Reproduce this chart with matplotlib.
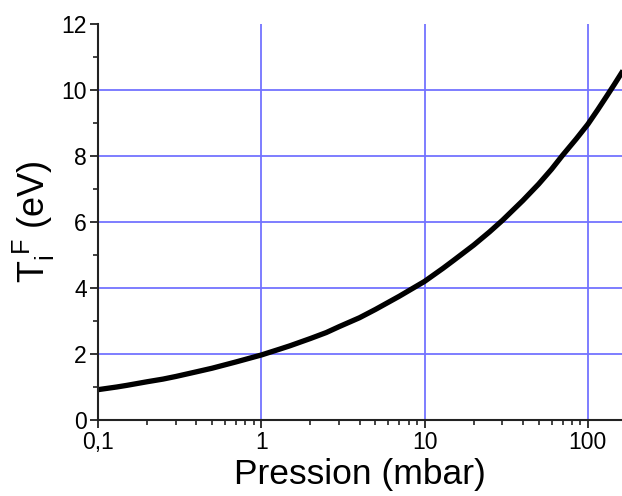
import matplotlib
matplotlib.use("Agg")
import matplotlib.pyplot as plt
from matplotlib.ticker import FixedLocator, LogLocator, NullFormatter

# -----------------------------
# Data
# -----------------------------
pression = [0.1, 0.13, 0.15, 0.2, 0.25, 0.3, 0.4, 0.5, 0.7, 1, 1.3, 1.5,
            2, 2.5, 3, 4, 5, 7, 10, 13, 15, 20, 25, 30, 40, 50, 60, 70,
            85, 100, 115, 130, 145, 165]
ti_f = [0.92, 1.0, 1.05, 1.16, 1.24, 1.32, 1.46, 1.57, 1.76, 1.97, 2.15,
        2.25, 2.47, 2.65, 2.83, 3.1, 3.35, 3.75, 4.2, 4.6, 4.83, 5.3, 5.7,
        6.05, 6.65, 7.15, 7.6, 8.02, 8.52, 8.96, 9.4, 9.8, 10.16, 10.6]

x_ticks = [0.1, 1, 10, 100]
x_labels = ["0,1", "1", "10", "100"]
y_ticks = [0, 2, 4, 6, 8, 10, 12]
x_grid = [1, 10, 100]
y_grid = [2, 4, 6, 8, 10]

plt.rcParams["font.family"] = ["Liberation Sans", "DejaVu Sans"]
plt.rcParams["mathtext.fontset"] = "custom"
plt.rcParams["mathtext.rm"] = "Liberation Sans"
plt.rcParams["mathtext.it"] = "Liberation Sans"

fig = plt.figure(figsize=(6.22, 4.96), dpi=100)
ax = fig.add_axes([0.1576, 0.1532, 0.8424, 0.7984])

grid_color = "#7373ff"
for gx in x_grid:
    ax.axvline(gx, color=grid_color, lw=1.3, zorder=1)
for gy in y_grid:
    ax.axhline(gy, color=grid_color, lw=1.3, zorder=1)

ax.plot(pression, ti_f, color="black", lw=3.8, zorder=3,
        solid_capstyle="butt", solid_joinstyle="round")

ax.set_xscale("log")
ax.set_xlim(0.1, 162)
ax.set_ylim(0, 12)

ax.xaxis.set_major_locator(FixedLocator(x_ticks))
ax.set_xticklabels(x_labels)
ax.xaxis.set_minor_locator(LogLocator(base=10, subs=range(2, 10)))
ax.xaxis.set_minor_formatter(NullFormatter())
ax.set_yticks(y_ticks)
ax.set_yticks([1, 3, 5, 7, 9, 11], minor=True)

for side in ["top", "right"]:
    ax.spines[side].set_visible(False)
for side in ["left", "bottom"]:
    ax.spines[side].set_linewidth(1.5)
    ax.spines[side].set_color("#222222")
    ax.spines[side].set_zorder(4)

ax.tick_params(which="major", direction="out", length=6, width=1.3,
               labelsize=16.5, colors="#222222", pad=2)
ax.tick_params(which="minor", direction="out", length=3.5, width=1.2,
               colors="#222222")
ax.tick_params(labelcolor="black")

ax.set_xlabel("Pression (mbar)", fontsize=25.5, labelpad=3)
ax.set_ylabel(r"$\mathregular{T_i^{\;F}}$ (eV)", fontsize=26, labelpad=3)

fig.savefig("out.png", dpi=100)
